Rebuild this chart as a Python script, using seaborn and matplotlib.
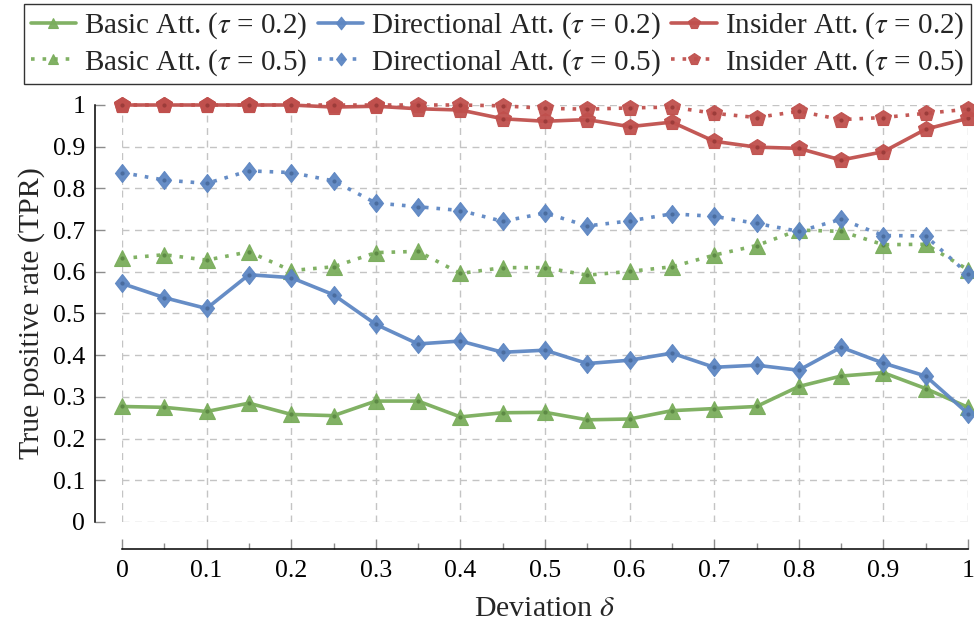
import numpy as np
import pandas as pd
import matplotlib
matplotlib.use("Agg")
import matplotlib.pyplot as plt
from matplotlib.path import Path
import seaborn as sns

# Deviation values on the x axis
deviation = [0.0, 0.05, 0.1, 0.15, 0.2, 0.25, 0.3, 0.35, 0.4, 0.45, 0.5,
             0.55, 0.6, 0.65, 0.7, 0.75, 0.8, 0.85, 0.9, 0.95, 1.0]

# True positive rates per attack and threshold
basic_02 = [0.277, 0.275, 0.265, 0.285, 0.258, 0.255, 0.290, 0.290, 0.252, 0.262, 0.263,
            0.245, 0.247, 0.267, 0.272, 0.277, 0.325, 0.350, 0.358, 0.320, 0.275]
directional_02 = [0.572, 0.538, 0.512, 0.593, 0.586, 0.545, 0.474, 0.427, 0.434, 0.407, 0.412,
                  0.380, 0.388, 0.405, 0.371, 0.376, 0.364, 0.419, 0.381, 0.350, 0.260]
insider_02 = [1.0, 1.0, 1.0, 1.0, 1.0, 0.995, 0.997, 0.991, 0.988, 0.967, 0.961,
              0.965, 0.948, 0.959, 0.913, 0.899, 0.896, 0.868, 0.888, 0.942, 0.968]
basic_05 = [0.632, 0.641, 0.628, 0.648, 0.603, 0.612, 0.646, 0.649, 0.596, 0.610, 0.610,
            0.592, 0.601, 0.612, 0.640, 0.663, 0.700, 0.697, 0.665, 0.666, 0.605]
directional_05 = [0.838, 0.820, 0.812, 0.842, 0.838, 0.818, 0.765, 0.756, 0.747, 0.721, 0.741,
                  0.710, 0.722, 0.739, 0.733, 0.716, 0.697, 0.726, 0.687, 0.686, 0.595]
insider_05 = [1.0, 1.0, 1.0, 1.0, 1.0, 1.0, 1.0, 1.0, 1.0, 0.998, 0.992,
              0.990, 0.993, 0.995, 0.980, 0.970, 0.985, 0.965, 0.970, 0.980, 0.990]

x_ticks = [0, 0.1, 0.2, 0.3, 0.4, 0.5, 0.6, 0.7, 0.8, 0.9, 1]
x_tick_labels = ["0", "0.1", "0.2", "0.3", "0.4", "0.5", "0.6", "0.7", "0.8", "0.9", "1"]
y_ticks = [0, 0.1, 0.2, 0.3, 0.4, 0.5, 0.6, 0.7, 0.8, 0.9, 1]
y_tick_labels = ["0", "0.1", "0.2", "0.3", "0.4", "0.5", "0.6", "0.7", "0.8", "0.9", "1"]

sns.set_theme(style="white")
plt.rcParams["font.family"] = ["Liberation Serif", "DejaVu Serif"]
plt.rcParams["mathtext.fontset"] = "stix"

GREEN = "#7aad5c"
BLUE = "#5e87c3"
RED = "#c0504d"
CENTER_DOT = {GREEN: "#5d8a45", BLUE: "#4a6c9e", RED: "#9c3c3a"}

# a diamond somewhat taller than wide
DIAMOND = Path([(0, 1), (0.78, 0), (0, -1), (-0.78, 0), (0, 1)],
               [Path.MOVETO, Path.LINETO, Path.LINETO, Path.LINETO, Path.CLOSEPOLY])
DOTTED = (0, (1, 2.2))

series = [
    ("Basic Att. ($\\tau$ = 0.2)", basic_02, GREEN, "^", "-", 11),
    ("Basic Att. ($\\tau$ = 0.5)", basic_05, GREEN, "^", DOTTED, 11),
    ("Directional Att. ($\\tau$ = 0.2)", directional_02, BLUE, DIAMOND, "-", 13),
    ("Directional Att. ($\\tau$ = 0.5)", directional_05, BLUE, DIAMOND, DOTTED, 13),
    ("Insider Att. ($\\tau$ = 0.2)", insider_02, RED, "p", "-", 12),
    ("Insider Att. ($\\tau$ = 0.5)", insider_05, RED, "p", DOTTED, 12),
]

W, H = 974, 626
fig = plt.figure(figsize=(W / 100, H / 100), dpi=100)
ax = fig.add_axes([122 / W, (H - 522) / H, 846 / W, 417 / H])

for label, values, color, marker, ls, ms in series:
    df = pd.DataFrame({"deviation": deviation, "tpr": values})
    sns.lineplot(data=df, x="deviation", y="tpr", ax=ax, color=color,
                 marker=marker, markersize=ms,
                 markeredgecolor=color, markeredgewidth=0.8,
                 linestyle=ls, linewidth=2.6, label=label, clip_on=False,
                 alpha=0.95)
    # small darker dot at the centre of every marker
    sns.lineplot(data=df, x="deviation", y="tpr", ax=ax, color=CENTER_DOT[color],
                 marker="o", markersize=3, markeredgewidth=0, linestyle="",
                 label="_nolegend_", clip_on=False)

ax.set_xlim(0, 1)
ax.set_ylim(0, 1)
ax.set_xticks(x_ticks)
ax.set_xticklabels(x_tick_labels)
ax.set_xticks(np.arange(0.05, 1.0, 0.1), minor=True)
ax.set_yticks(y_ticks)
ax.set_yticklabels(y_tick_labels)

ax.grid(True, which="major", color="#c4c4c4", linestyle=(0, (5, 4)), linewidth=1.0)
ax.set_axisbelow(True)

for side in ("top", "right"):
    ax.spines[side].set_visible(False)
for side in ("left", "bottom"):
    ax.spines[side].set_position(("outward", 19.5))
    ax.spines[side].set_color("black")
    ax.spines[side].set_linewidth(1.1)

ax.tick_params(axis="both", which="major", direction="in", color="#8c8c8c",
               length=7.5, width=1.0, labelsize=18.5, labelcolor="black",
               left=True, bottom=True)
ax.tick_params(axis="x", which="major", pad=8)
ax.tick_params(axis="y", which="major", pad=7)
ax.tick_params(axis="x", which="minor", direction="in", color="#8c8c8c",
               length=4.5, width=1.0, bottom=True)
ax.tick_params(axis="y", which="minor", left=False)

ax.set_xlabel("Deviation $\\delta$", fontsize=21.5, labelpad=10)
ax.set_ylabel("True positive rate (TPR)", fontsize=21.5, labelpad=6)

handles, labels = ax.get_legend_handles_labels()
keep = [(h, l) for h, l in zip(handles, labels) if not l.startswith("_")]
handles, labels = [k[0] for k in keep], [k[1] for k in keep]
if ax.legend_ is not None:
    ax.legend_.remove()
leg = fig.legend(handles, labels, loc="upper center", bbox_to_anchor=(497.5 / W, 1 - 4 / H),
                 ncol=3, frameon=True, fancybox=False, edgecolor="black",
                 fontsize=21, handlelength=1.55, handletextpad=0.28,
                 columnspacing=0.36, borderpad=0.22, labelspacing=0.2,
                 borderaxespad=0, markerscale=0.7)
leg.get_frame().set_linewidth(1.0)

fig.savefig("out.png", dpi=100)
